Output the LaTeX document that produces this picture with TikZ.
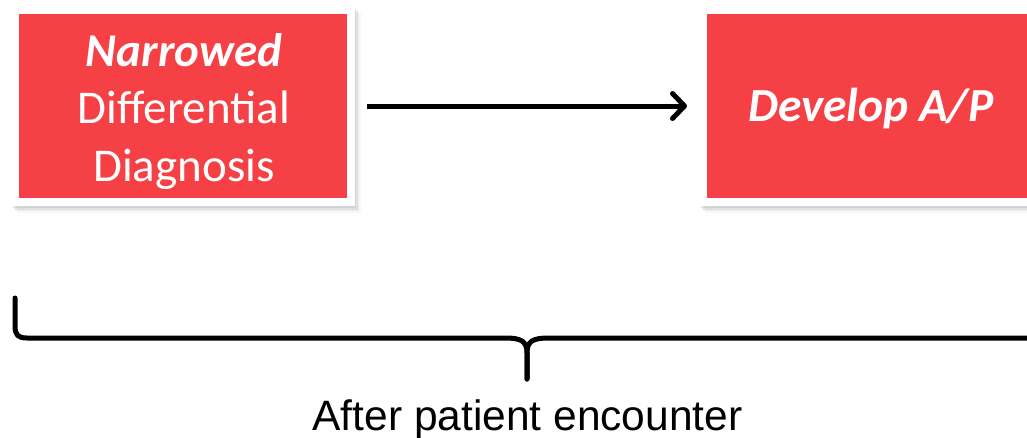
\documentclass[tikz,border=0pt]{standalone}
\usepackage{fontspec}
\setmainfont{Carlito}
\newfontfamily\arialfont{Liberation Sans}
\usetikzlibrary{arrows.meta}
\definecolor{boxred}{HTML}{F54045}
\begin{document}
\begin{tikzpicture}[x=1pt,y=-1pt,
  redbox/.style={rectangle, fill=boxred, draw=white, line width=8pt, minimum width=336pt, minimum height=192pt, inner sep=0pt},
  boxshadow/.style={fill=black, draw=none},
  boxtext/.style={text=white, font=\fontsize{47}{57.5}\selectfont, align=center},
  conn/.style={line width=5pt, -{Straight Barb[length=12pt,width=25pt,round]}},
  bracepath/.style={line width=5pt, line cap=round, line join=round},
  caption/.style={font=\arialfont\fontsize{42.5}{50}\selectfont}]
\useasboundingbox (0,0) rectangle (1027,437);
\clip (0,0) rectangle (1027,437);
\fill[white] (0,0) rectangle (1027,437);
% soft shadows
\foreach \d/\o in {1/0.06,2.5/0.05,4/0.04,5.5/0.03}{
  \fill[boxshadow, fill opacity=\o] (11+\d,6+\d+1) rectangle (355+\d,206+\d+1);
  \fill[boxshadow, fill opacity=\o] (699+\d,6+\d+1) rectangle (1043+\d,206+\d+1);
}
\node[redbox] (ddx) at (183,106) {};
\node[redbox] (ap) at (871,106) {};
\node[boxtext] (ddxtext) at (184,111.5) {\textbf{\textit{Narrowed}}\\Differential\\Diagnosis};
\node[boxtext, font=\bfseries\itshape\fontsize{47.5}{57.5}\selectfont, anchor=base] (aptext) at (871,121) {Develop A/P};
\draw[conn, shorten <=12pt, shorten >=12pt] (ddx) -- (ap);
% brace
\coordinate (bl) at (15,298);
\coordinate (br) at (1039,298);
\coordinate (btip) at (527,379);
\draw[bracepath] (bl) -- (15,326) .. controls (15,335) and (18,338) .. (27,338) -- (505,338)
  .. controls (521,338) and (527,341) .. (527,353) -- (btip);
\draw[bracepath] (br) -- (1039,326) .. controls (1039,335) and (1036,338) .. (1027,338) -- (549,338)
  .. controls (533,338) and (527,341) .. (527,353) -- (btip);
\node[caption, anchor=base] (cap) at (527.5,430) {After patient encounter};
\end{tikzpicture}
\end{document}
